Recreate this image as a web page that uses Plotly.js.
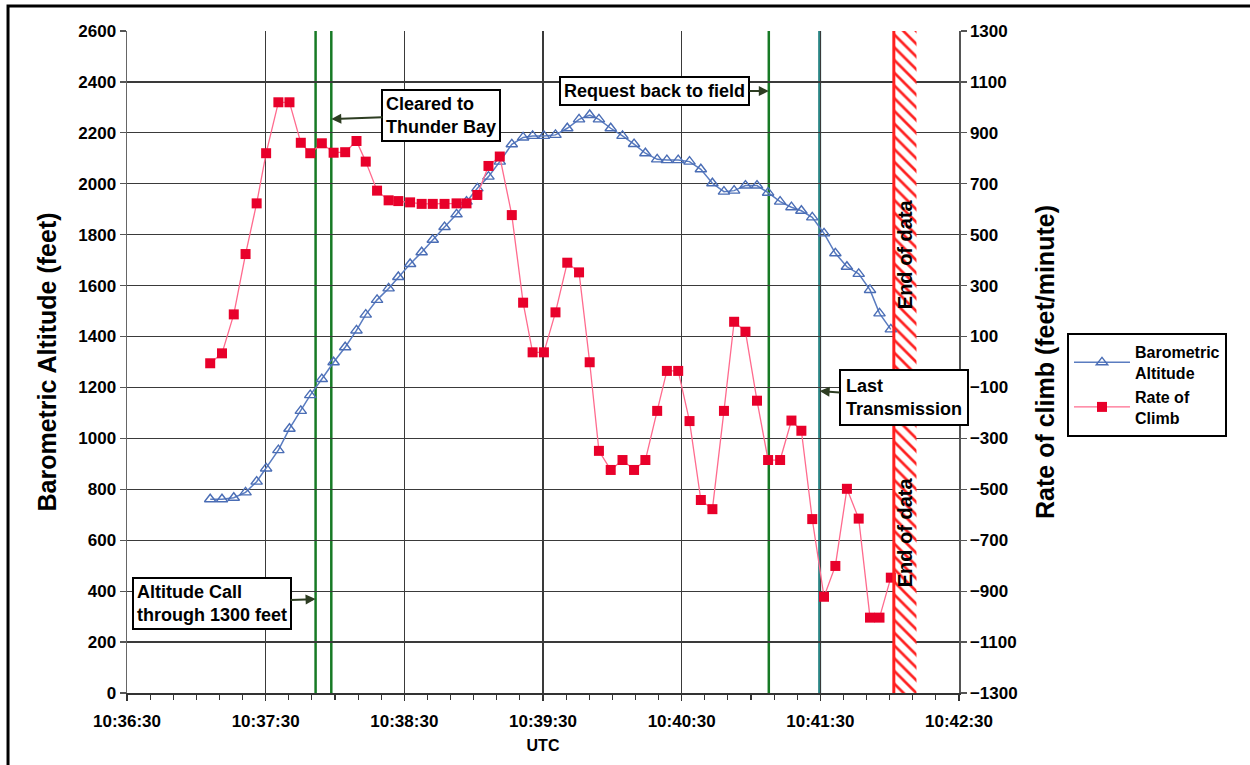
<!DOCTYPE html>
<html>
<head>
<meta charset="utf-8">
<script src="https://cdn.plot.ly/plotly-3.0.1.min.js"></script>
<style>
  html, body { margin: 0; padding: 0; background: #fff; }
  #chart { width: 1250px; height: 765px; }
</style>
</head>
<body>
<div id="chart"></div>
<script>
// ---- Data ----
const times = [
  '10:37:06.0','10:37:11.1','10:37:16.2','10:37:21.3','10:37:26.1','10:37:30.2','10:37:35.5','10:37:40.3',
  '10:37:45.2','10:37:49.3','10:37:54.3','10:37:59.4','10:38:04.4','10:38:09.3','10:38:13.3','10:38:18.2',
  '10:38:23.2','10:38:27.4','10:38:32.5','10:38:37.5','10:38:42.3','10:38:47.4','10:38:52.6','10:38:56.9',
  '10:39:01.6','10:39:06.4','10:39:11.3','10:39:16.5','10:39:21.4','10:39:25.5','10:39:30.4','10:39:35.4',
  '10:39:40.5','10:39:45.6','10:39:50.2','10:39:54.2','10:39:59.3','10:40:04.4','10:40:09.4','10:40:14.3',
  '10:40:19.4','10:40:23.6','10:40:28.5','10:40:33.4','10:40:38.3','10:40:43.3','10:40:48.3','10:40:52.7',
  '10:40:57.6','10:41:02.6','10:41:07.4','10:41:12.6','10:41:17.5','10:41:21.8','10:41:26.5','10:41:31.6',
  '10:41:36.5','10:41:41.5','10:41:46.6','10:41:51.5','10:41:55.6','10:42:00.5'
];
const altitude = [
  761,761,767,788,830,882,954,1038,1108,1170,1233,1299,1358,1424,1486,1544,
  1589,1634,1685,1731,1780,1830,1880,1930,1982,2028,2087,2155,2182,2188,2188,2192,
  2218,2253,2270,2253,2218,2188,2156,2120,2096,2093,2093,2087,2057,2002,1969,1973,
  1993,1993,1965,1930,1908,1894,1868,1805,1727,1674,1646,1583,1491,1428
];
const rateOfClimb = [
  -5,34,187,424,623,820,1020,1020,861,820,859,822,824,868,787,673,
  635,632,627,621,621,621,623,623,656,770,807,577,233,38,38,195,
  390,352,-1,-349,-424,-385,-424,-385,-192,-35,-35,-232,-542,-578,-192,158,
  119,-152,-385,-385,-230,-270,-617,-922,-801,-498,-615,-1004,-1004,-847
];
const seriesNames = ['Barometric<br>Altitude', 'Rate of<br>Climb'];
const eventLabels = ['Altitude Call<br>through 1300 feet', 'Cleared to<br>Thunder Bay', 'Request back to field', 'Last<br>Transmission'];
const eventTimes  = ['10:37:51.6', '10:37:58.4', '10:41:07.7', '10:41:29.7'];
const endOfData   = ['10:42:01.8', '10:42:11.6'];
const endLabel    = 'End of data';
const xRange      = ['10:36:30', '10:42:30'];

// ---- helpers ----
function toMs(t) { const p = t.split(':').map(Number); return ((p[0] * 60 + p[1]) * 60 + p[2]) * 1000; }
function toDate(ms) { return new Date(Date.UTC(2024, 0, 1) + ms).toISOString().replace('T', ' ').replace('Z', ''); }
const D = t => toDate(toMs(t));

const FONT = 'Liberation Sans, Arial, sans-serif';
const endStart = toMs(endOfData[0]), endEnd = toMs(endOfData[1]);
const endMid = toDate((endStart + endEnd) / 2);

const traces = [
  {
    type: 'bar', x: [endMid], y: [2600], base: [0], width: [endEnd - endStart],
    yaxis: 'y', showlegend: false, hoverinfo: 'skip',
    marker: { color: '#ffffff', line: { width: 0 },
      pattern: { shape: '\\', fgcolor: '#ff2020', bgcolor: '#ffffff', size: 9, solidity: 0.3 } }
  },
  {
    type: 'scatter', mode: 'lines+markers', name: seriesNames[0],
    x: times.map(D), y: altitude, yaxis: 'y',
    line: { color: '#5a7cc0', width: 1.5 },
    marker: { symbol: 'triangle-up-open', size: 10, color: '#4a6db5', line: { width: 1.4, color: '#4a6db5' } }
  },
  {
    type: 'scatter', mode: 'lines+markers', name: seriesNames[1],
    x: times.map(D), y: rateOfClimb, yaxis: 'y2',
    line: { color: '#ff6b8e', width: 1.3 },
    marker: { symbol: 'square', size: 10, color: '#e8002a' }
  }
];

const lineColors = ['#177a25', '#177a25', '#177a25', '#2a8585'];
const lineWidths = [2.5, 2.5, 2.5, 3];
const shapes = eventTimes.map((t, i) => ({
  type: 'line', xref: 'x', yref: 'paper', x0: D(t), x1: D(t), y0: 0, y1: 1,
  line: { color: lineColors[i], width: lineWidths[i] }, layer: 'between'
}));
shapes.push({
  type: 'line', xref: 'x', yref: 'paper', x0: D(endOfData[0]), x1: D(endOfData[0]), y0: 0, y1: 1,
  line: { color: '#ff1f1f', width: 3 }, layer: 'above'
});
// outer frame of the figure
shapes.push({
  type: 'rect', xref: 'paper', yref: 'paper', x0: -0.143, x1: 1.36, y0: -0.15, y1: 1.0378,
  line: { color: '#000', width: 3 }, layer: 'below'
});

const annFont = { family: FONT, size: 18, color: '#000', weight: 'bold' };
const annBase = {
  xref: 'x', yref: 'y', showarrow: true, arrowhead: 2, arrowsize: 1, arrowwidth: 2,
  arrowcolor: '#2d3d22', standoff: 0, bgcolor: '#fff', bordercolor: '#000',
  borderwidth: 2, borderpad: 3, align: 'left', font: annFont
};
const annotations = [
  Object.assign({}, annBase, { text: eventLabels[0], x: D(eventTimes[0]), y: 369, ax: -104, ay: 4 }),
  Object.assign({}, annBase, { text: eventLabels[1], x: D(eventTimes[1]), y: 2254, ax: 110, ay: -4 }),
  Object.assign({}, annBase, { text: eventLabels[2], x: D(eventTimes[2]), y: 2364, ax: -114, ay: 0 }),
  Object.assign({}, annBase, { text: eventLabels[3], x: D(eventTimes[3]), y: 1186, ax: 84, ay: 6, borderpad: 5 }),
  { text: endLabel, xref: 'x', yref: 'y', x: endMid, y: 1724, showarrow: false, textangle: -90,
    font: { family: FONT, size: 20, color: '#000', weight: 'bold' } },
  { text: endLabel, xref: 'x', yref: 'y', x: endMid, y: 632, showarrow: false, textangle: -90,
    font: { family: FONT, size: 20, color: '#000', weight: 'bold' } }
];

const tickFont = { family: FONT, size: 17, color: '#000', weight: 'bold' };
const layout = {
  width: 1250, height: 765,
  margin: { l: 127, r: 291, t: 31, b: 72, pad: 0 },
  paper_bgcolor: '#fff', plot_bgcolor: '#fff',
  font: { family: FONT, color: '#000' },
  showlegend: true,
  legend: {
    x: 1.1298, y: 0.5438, xanchor: 'left', yanchor: 'top',
    bgcolor: '#fff', bordercolor: '#000', borderwidth: 2,
    font: { family: FONT, size: 16, color: '#000', weight: 'bold' },
    tracegroupgap: 0, valign: 'middle', itemwidth: 56
  },
  xaxis: {
    type: 'date', range: xRange.map(D), tick0: D(xRange[0]), dtick: 60000,
    tickformat: '%H:%M:%S', tickfont: tickFont,
    showgrid: true, gridcolor: '#3a3a3a', gridwidth: 1.2,
    ticks: 'outside', ticklen: 6, tickcolor: '#333', tickwidth: 1.2,
    minor: { dtick: 10000, ticks: 'outside', ticklen: 5, tickcolor: '#333', tickwidth: 1.2, showgrid: false },
    showline: true, linecolor: '#333', linewidth: 1.5, zeroline: false,
    ticklabelstandoff: 6,
    title: { text: 'UTC', font: { family: FONT, size: 16, color: '#000', weight: 'bold' }, standoff: 10 }
  },
  yaxis: {
    range: [0, 2600], dtick: 200, tick0: 0, tickfont: tickFont,
    showgrid: true, gridcolor: '#3a3a3a', gridwidth: 1.2,
    ticks: 'outside', ticklen: 6, tickcolor: '#555', tickwidth: 1.2,
    showline: true, linecolor: '#666', linewidth: 1.5, zeroline: false,
    title: { text: 'Barometric Altitude (feet)', font: { family: FONT, size: 25, color: '#000', weight: 'bold' }, standoff: 14 }
  },
  yaxis2: {
    overlaying: 'y', side: 'right',
    range: [-1300, 1300], dtick: 200, tick0: -1300, tickfont: tickFont,
    showgrid: false, ticks: 'outside', ticklen: 6, tickcolor: '#555', tickwidth: 1.2,
    showline: true, linecolor: '#555', linewidth: 1.5, zeroline: false,
    title: { text: 'Rate of climb (feet/minute)', font: { family: FONT, size: 25, color: '#000', weight: 'bold' }, standoff: 20 }
  },
  shapes: shapes,
  annotations: annotations
};

Plotly.newPlot('chart', traces, layout, { displayModeBar: false, staticPlot: true });
</script>
</body>
</html>
